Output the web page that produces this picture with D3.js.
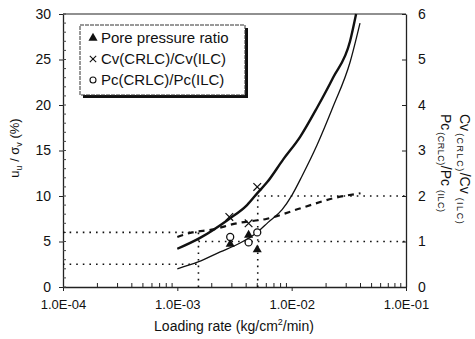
<!DOCTYPE html>
<html>
<head>
<meta charset="utf-8">
<script src="https://cdn.jsdelivr.net/npm/d3@7"></script>
<style>
  body { margin: 0; background: #fff; }
  text { font-family: "Liberation Sans", Arial, sans-serif; fill: #111; }
</style>
</head>
<body>
<svg id="chart" width="475" height="339"></svg>
<script>
// fitted curves (x = loading rate, y on left axis %)
const thickX = [1.0e-3, 1.58e-3, 2.78e-3, 4.07e-3, 5.08e-3, 6.09e-3, 8.41e-3, 1.186e-2, 1.667e-2, 2.3e-2, 3.24e-2, 3.66e-2];
const thickY = [4.2, 5.4, 7.4, 9.0, 10.4, 11.5, 14.0, 16.5, 19.7, 23.0, 27.0, 30];
const thinX = [1.0e-3, 1.52e-3, 2.37e-3, 3.54e-3, 4.98e-3, 6.22e-3, 8.25e-3, 1.007e-2, 1.233e-2, 1.667e-2, 2.3e-2, 3.24e-2, 3.96e-2];
const thinY = [2.0, 2.75, 3.85, 4.84, 6.0, 7.1, 8.5, 10.1, 12.2, 15.6, 19.8, 24.7, 29.0];
const dashX = [1.0e-3, 1.35e-3, 2.0e-3, 3.3e-3, 6.1e-3, 1.23e-2, 2.4e-2, 4.0e-2];
const dashY = [5.5, 6.0, 6.3, 7.0, 7.5, 8.7, 9.8, 10.3];

// measured points
const poreX = [2.9e-3, 4.2e-3, 5.0e-3];
const poreY = [4.7, 5.7, 4.1];          // left axis
const cvX = [2.85e-3, 4.2e-3, 5.0e-3];
const cvY = [1.54, 1.4, 2.2];           // right axis
const pcX = [2.9e-3, 4.2e-3, 5.0e-3];
const pcY = [1.1, 0.98, 1.2];           // right axis

// dotted guide lines [x1, x2, y1, y2] in left-axis units
const guides = [
  [1e-4, 1.53e-3, 6, 6],
  [1e-4, 1.53e-3, 2.5, 2.5],
  [1.53e-3, 1.53e-3, 0, 6],
  [1.53e-3, 1e-1, 5, 5],
  [5.05e-3, 1e-1, 10, 10],
  [5.05e-3, 5.05e-3, 0, 10]
];

const xTicks = [1e-4, 1e-3, 1e-2, 1e-1];
const xTickLabels = ["1.0E-04", "1.0E-03", "1.0E-02", "1.0E-01"];
const yTicks = [0, 5, 10, 15, 20, 25, 30];
const yRTicks = [0, 1, 2, 3, 4, 5, 6];
const legendLabels = ["Pore pressure ratio", "Cv(CRLC)/Cv(ILC)", "Pc(CRLC)/Pc(ILC)"];

const svg = d3.select("#chart");
const margin = { top: 14, bottom: 52, left: 63, right: 69 };
const width = 475, height = 339;
const innerWidth = width - margin.left - margin.right;
const innerHeight = height - margin.top - margin.bottom;

const g = svg.append("g")
  .attr("transform", `translate(${margin.left},${margin.top})`);

const xScale = d3.scaleLog().domain([1e-4, 1e-1]).range([0, innerWidth]);
const yScale = d3.scaleLinear().domain([0, 30]).range([innerHeight, 0]);
const yRScale = d3.scaleLinear().domain([0, 6]).range([innerHeight, 0]);

// frame
g.append("line").attr("x1", 0).attr("x2", innerWidth).attr("y1", 0).attr("y2", 0)
  .attr("stroke", "#222").attr("stroke-width", 1.2);

// x axis: major ticks down, minor ticks up
const xAxisG = g.append("g").attr("transform", `translate(0,${innerHeight})`)
  .call(d3.axisBottom(xScale).tickValues(xTicks)
    .tickFormat((d, i) => xTickLabels[i]).tickSize(4).tickPadding(9).tickSizeOuter(0));
const minorX = [];
xTicks.slice(0, 3).forEach(d => { for (let k = 2; k <= 9; k++) minorX.push(d * k); });
xAxisG.selectAll(".minor").data(minorX).enter().append("line")
  .attr("x1", d => xScale(d)).attr("x2", d => xScale(d))
  .attr("y1", 0).attr("y2", -4).attr("stroke", "#222");

// left axis
const yAxisG = g.append("g")
  .call(d3.axisLeft(yScale).tickValues(yTicks).tickSize(4).tickPadding(8).tickSizeOuter(0));
yAxisG.selectAll(".minor").data(d3.range(0, 31)).enter().append("line")
  .attr("x1", 0).attr("x2", 3)
  .attr("y1", d => yScale(d)).attr("y2", d => yScale(d)).attr("stroke", "#444");

// right axis
const yRAxisG = g.append("g").attr("transform", `translate(${innerWidth},0)`)
  .call(d3.axisRight(yRScale).tickValues(yRTicks).tickFormat(d3.format("d"))
    .tickSize(-4).tickPadding(12).tickSizeOuter(0));

[xAxisG, yAxisG, yRAxisG].forEach(a => {
  a.select(".domain").attr("stroke", "#222").attr("stroke-width", 1.3);
  a.selectAll(".tick line").attr("stroke", "#222");
  a.selectAll(".tick text").style("font-size", "14px").attr("fill", "#111");
});
xAxisG.selectAll(".tick text").style("font-size", "13px");

// guides
g.selectAll(".guide").data(guides).enter().append("line")
  .attr("x1", d => xScale(d[0])).attr("x2", d => xScale(d[1]))
  .attr("y1", d => yScale(d[2])).attr("y2", d => yScale(d[3]))
  .attr("stroke", "#111").attr("stroke-width", 1.6).attr("stroke-dasharray", "1.6,5");

const line = d3.line().x(d => xScale(d[0])).y(d => yScale(d[1])).curve(d3.curveMonotoneX);
g.append("path").datum(d3.zip(thickX, thickY)).attr("d", line)
  .attr("fill", "none").attr("stroke", "#111").attr("stroke-width", 2.4);
g.append("path").datum(d3.zip(thinX, thinY)).attr("d", line)
  .attr("fill", "none").attr("stroke", "#111").attr("stroke-width", 1.3);
g.append("path").datum(d3.zip(dashX, dashY)).attr("d", line)
  .attr("fill", "none").attr("stroke", "#111").attr("stroke-width", 2.2).attr("stroke-dasharray", "6,5");

// markers
const tri = d3.symbol().type(d3.symbolTriangle).size(36);
g.selectAll(".pore").data(d3.zip(poreX, poreY)).enter().append("path")
  .attr("d", tri).attr("fill", "#111")
  .attr("transform", d => `translate(${xScale(d[0])},${yScale(d[1])})`);
const cross = d3.symbol().type(d3.symbolTimes).size(40);
g.selectAll(".cv").data(d3.zip(cvX, cvY)).enter().append("path")
  .attr("d", cross).attr("fill", "none").attr("stroke", "#111").attr("stroke-width", 1.2)
  .attr("transform", d => `translate(${xScale(d[0])},${yRScale(d[1])})`);
g.selectAll(".pc").data(d3.zip(pcX, pcY)).enter().append("circle")
  .attr("cx", d => xScale(d[0])).attr("cy", d => yRScale(d[1])).attr("r", 3.5)
  .attr("fill", "#fff").attr("stroke", "#111").attr("stroke-width", 1.3);

// legend
const lg = svg.append("g").attr("transform", "translate(80,25)");
lg.append("rect").attr("x", 3).attr("y", 3).attr("width", 165).attr("height", 70).attr("fill", "#111");
lg.append("rect").attr("width", 165).attr("height", 70).attr("fill", "#fff")
  .attr("stroke", "#333").attr("stroke-width", 1).attr("stroke-dasharray", "4,1");
legendLabels.forEach((t, i) => {
  const cy = 13 + i * 21;
  if (i === 0) lg.append("path").attr("d", tri).attr("fill", "#111").attr("transform", `translate(13,${cy})`);
  if (i === 1) lg.append("path").attr("d", d3.symbol().type(d3.symbolTimes).size(28)).attr("stroke", "#111")
    .attr("stroke-width", 1.1).attr("transform", `translate(13,${cy})`);
  if (i === 2) lg.append("circle").attr("cx", 13).attr("cy", cy).attr("r", 3)
    .attr("fill", "#fff").attr("stroke", "#111").attr("stroke-width", 1.1);
  lg.append("text").attr("x", 21).attr("y", cy + 5).style("font-size", "15px").text(t);
});

// axis titles
svg.append("text").attr("x", 234).attr("y", 331).attr("text-anchor", "middle")
  .style("font-size", "14px")
  .html('Loading rate (kg/cm<tspan dy="-6" style="font-size:9px">2</tspan><tspan dy="6">/min)</tspan>');

const lt = svg.append("text").attr("transform", "translate(19,148) rotate(-90)")
  .attr("text-anchor", "middle").style("font-size", "13px");
lt.append("tspan").text("u");
lt.append("tspan").attr("dy", 3).style("font-size", "9px").text("u");
lt.append("tspan").attr("dy", -3).text(" / σ");
lt.append("tspan").attr("dy", 3).style("font-size", "9px").text("v");
lt.append("tspan").attr("dy", -3).text(" (%)");

function rightTitle(x, a, sp) {
  const t = svg.append("text").attr("transform", `translate(${x},114) rotate(90)`)
    .style("font-size", "14px");
  t.append("tspan").text(a);
  t.append("tspan").attr("dy", 3).attr("dx", 2).style("font-size", "9px")
    .style("letter-spacing", sp).text("(CRLC)");
  t.append("tspan").attr("dy", -3).text("/" + a);
  t.append("tspan").attr("dy", 3).attr("dx", 4).style("font-size", "9px")
    .style("letter-spacing", sp).text("(ILC)");
}
rightTitle(460, "Cv", "1.5px");
rightTitle(441, "Pc", "0.5px");
</script>
</body>
</html>
